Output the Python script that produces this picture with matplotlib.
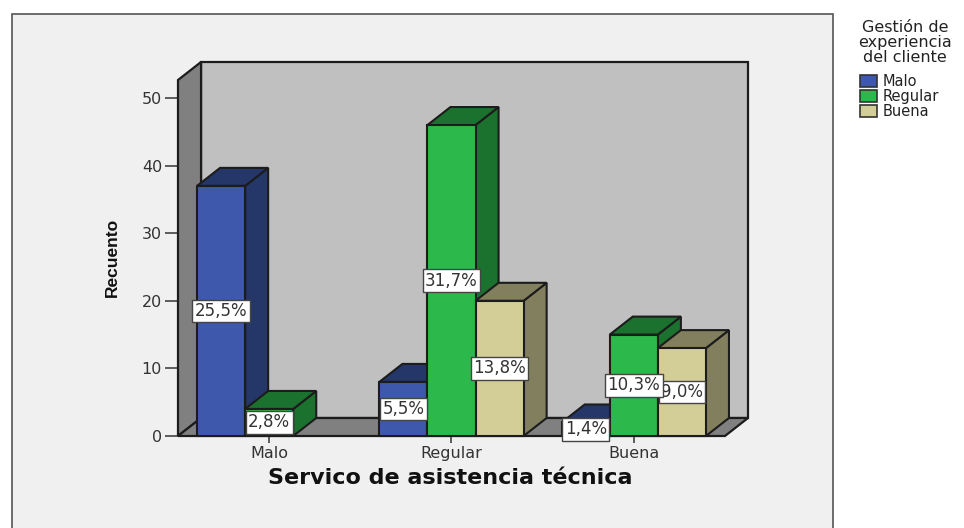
# Clustered 3D-look bar chart (SPSS style) of service rating vs customer experience.

import matplotlib
matplotlib.use('Agg')
import matplotlib.pyplot as plt
from matplotlib.patches import Polygon, Rectangle

# Data.
categories = ['Malo', 'Regular', 'Buena']
series_names = ['Malo', 'Regular', 'Buena']
malo_counts = [37, 4, 0]
regular_counts = [8, 46, 20]
buena_counts = [2, 15, 13]
malo_labels = ['25,5%', '2,8%', '']
regular_labels = ['5,5%', '31,7%', '13,8%']
buena_labels = ['1,4%', '10,3%', '9,0%']
y_ticks = [0, 10, 20, 30, 40, 50]

counts = [malo_counts, regular_counts, buena_counts]
labels = [malo_labels, regular_labels, buena_labels]

# Colours per series: front, shaded side.
front_colors = ['#3e58ac', '#2db84c', '#d3ce97']
side_colors = ['#253668', '#1b722e', '#817f5d']
edge = '#1c1c1c'
text_color = '#333333'

# Depth of the fake 3D box and bar width, in data units.
depth_x = 23 / 182
depth_y = 18 / 6.76
bar_w = 48 / 182
x_end = 2.5
y_top = 356 / 6.76

W, H = 964, 528
fig = plt.figure(figsize=(W / 100, H / 100), dpi=100, facecolor='white')

# Grey panel behind the chart, runs off the bottom of the image.
fig.add_artist(Rectangle((12 / W, -0.05), 821 / W, 1.05 - 14 / H, transform=fig.transFigure,
                         facecolor='#f0f0f0', edgecolor='#555555', linewidth=1.2, zorder=-5))

ax = fig.add_axes([178 / W, 1 - 436 / H, 570 / W, 374 / H])
ax.set_xlim(-0.5, x_end + depth_x)
ax.set_ylim(0, y_top + depth_y)
ax.patch.set_visible(False)
for spine in ax.spines.values():
    spine.set_visible(False)

# Walls and floor.
ax.add_patch(Polygon([(-0.5 + depth_x, depth_y), (x_end + depth_x, depth_y),
                      (x_end + depth_x, y_top + depth_y), (-0.5 + depth_x, y_top + depth_y)],
                     facecolor='#c0c0c0', edgecolor=edge, linewidth=1.6, clip_on=False, zorder=1))
ax.add_patch(Polygon([(-0.5, 0), (-0.5, y_top), (-0.5 + depth_x, y_top + depth_y), (-0.5 + depth_x, depth_y)],
                     facecolor='#808080', edgecolor=edge, linewidth=1.6, clip_on=False, zorder=2))
ax.add_patch(Polygon([(-0.5, 0), (x_end, 0), (x_end + depth_x, depth_y), (-0.5 + depth_x, depth_y)],
                     facecolor='#808080', edgecolor=edge, linewidth=1.6, clip_on=False, zorder=2))

# Bars, left to right so later ones cover earlier ones.
z = 3
for c in range(len(categories)):
    for s in range(len(series_names)):
        v = counts[c][s]
        if v == 0:
            continue
        left = c + (s - 1) * bar_w - bar_w / 2
        right = left + bar_w
        ax.add_patch(Polygon([(right, 0), (right + depth_x, depth_y), (right + depth_x, v + depth_y), (right, v)],
                             facecolor=side_colors[s], edgecolor=edge, linewidth=1.5, clip_on=False, zorder=z))
        ax.add_patch(Polygon([(left, v), (right, v), (right + depth_x, v + depth_y), (left + depth_x, v + depth_y)],
                             facecolor=side_colors[s], edgecolor=edge, linewidth=1.5, clip_on=False, zorder=z))
        ax.bar(left + bar_w / 2, v, bar_w, color=front_colors[s], edgecolor=edge, linewidth=1.5,
               clip_on=False, zorder=z + 1)
        z += 2

# Percent labels on top of all bars; the 10,3% box covers part of 9,0%.
for c, s in [(0, 0), (0, 1), (1, 0), (1, 1), (1, 2), (2, 2), (2, 0), (2, 1)]:
    ax.text(c + (s - 1) * bar_w, counts[c][s] / 2, labels[c][s], ha='center', va='center',
            fontsize=12, color=text_color, zorder=z,
            bbox=dict(boxstyle='square,pad=0.14', facecolor='white', edgecolor='#444444', linewidth=1))
    z += 1

# Axes.
ax.set_yticks(y_ticks)
ax.set_xticks(range(len(categories)))
ax.set_xticklabels(categories)
ax.tick_params(axis='y', length=9.5, width=1.1, color=text_color, labelcolor=text_color, labelsize=11.5, pad=2)
ax.tick_params(axis='x', length=5, width=1.1, color=text_color, labelcolor=text_color, labelsize=11.5, pad=2)

fig.text(450 / W, 1 - 478 / H, 'Servico de asistencia técnica', ha='center', va='center',
         fontsize=16, fontweight='bold', color='#111111')
fig.text(112 / W, 1 - 257 / H, 'Recuento', ha='center', va='center', rotation=90,
         fontsize=12.5, fontweight='bold', color='#111111', family='Liberation Sans')

# Legend.
for s in range(len(series_names)):
    y_px = 81 + 15 * s
    fig.add_artist(Rectangle((860 / W, 1 - (y_px + 6) / H), 17 / W, 12 / H, transform=fig.transFigure,
                             facecolor=front_colors[s], edgecolor='#333333', linewidth=1.2))
    fig.text(883 / W, 1 - y_px / H, series_names[s], ha='left', va='center', fontsize=10.5, color='#222222')
for line, y_px in zip(['Gestión de', 'experiencia', 'del cliente'], [28, 43, 58]):
    fig.text(905 / W, 1 - y_px / H, line, ha='center', va='center', fontsize=11.5, color='#222222')

plt.savefig('out.png', dpi=100, facecolor='white')
